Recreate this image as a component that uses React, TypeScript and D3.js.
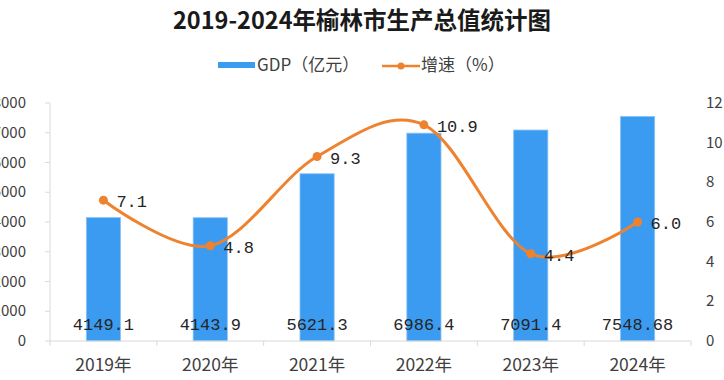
import React from "react";
import * as d3 from "d3";

const categories = ["2019年", "2020年", "2021年", "2022年", "2023年", "2024年"];
const gdpValues = [4149.1, 4143.9, 5621.3, 6986.4, 7091.4, 7548.68];
const gdpLabels = ["4149.1", "4143.9", "5621.3", "6986.4", "7091.4", "7548.68"];
const growthValues = [7.1, 4.8, 9.3, 10.9, 4.4, 6.0];
const growthLabels = ["7.1", "4.8", "9.3", "10.9", "4.4", "6.0"];
const leftTicks = [0, 1000, 2000, 3000, 4000, 5000, 6000, 7000, 8000];
const rightTicks = [0, 2, 4, 6, 8, 10, 12];
const title = "2019-2024年榆林市生产总值统计图";
const legendGdp = "GDP（亿元）";
const legendGrowth = "增速（%）";

const W = 724;
const H = 380;
const left = 50;
const right = 691;
const top = 103;
const bottom = 341;

const BLUE = "#3b9bf1";
const ORANGE = "#ee822f";
const AXIS = "#d9d9d9";
const TEXT = "#404040";
const CJK = "'Noto Sans CJK SC', 'Noto Sans', sans-serif";
const MONO = "'Liberation Mono', 'DejaVu Sans Mono', monospace";

export default function App() {
  const x = d3.scaleBand<string>().domain(categories).range([left, right]).padding(0);
  const bw = x.bandwidth();
  const cx = (c: string) => (x(c) as number) + bw / 2;
  const yL = d3.scaleLinear().domain([0, 8000]).range([bottom, top]);
  const yR = d3.scaleLinear().domain([0, 12]).range([bottom, top]);
  const barW = bw * 0.32;

  const pts: [number, number][] = categories.map((c, i) => [cx(c), yR(growthValues[i])]);
  const line = d3.line<[number, number]>().curve(d3.curveCatmullRom.alpha(0))(pts) || "";

  return (
    <svg width={W} height={H} style={{ position: "absolute", left: 0, top: 0, background: "#fff" }}>
      <rect x={0} y={0} width={W} height={H} fill="#fff" />
      <text x={362} y={29} textAnchor="middle" fontFamily={CJK} fontWeight="bold" fontSize={23.5} fill="#1a1a1a">
        {title}
      </text>
      {/* legend */}
      <rect x={218} y={62} width={37} height={6} fill={BLUE} />
      <text x={257} y={71} fontFamily={CJK} fontSize={17} fill={TEXT}>{legendGdp}</text>
      <line x1={382} x2={420} y1={66} y2={66} stroke={ORANGE} strokeWidth={2.5} />
      <circle cx={401} cy={66} r={3.5} fill={ORANGE} />
      <text x={421} y={71} fontFamily={CJK} fontSize={17} fill={TEXT}>{legendGrowth}</text>

      {/* left axis */}
      <line x1={left} x2={left} y1={top} y2={bottom} stroke={AXIS} />
      {leftTicks.map((t) => (
        <g key={"l" + t}>
          <line x1={left - 5} x2={left} y1={yL(t)} y2={yL(t)} stroke={AXIS} />
          <text x={26} y={yL(t) + 5} textAnchor="end" fontFamily={CJK} fontSize={15} fill={TEXT}>{t}</text>
        </g>
      ))}
      {/* right axis labels */}
      {rightTicks.map((t) => (
        <text key={"r" + t} x={706} y={yR(t) + 5} fontFamily={CJK} fontSize={15} fill={TEXT}>{t}</text>
      ))}

      {/* bars */}
      {categories.map((c, i) => (
        <rect key={"b" + c} x={cx(c) - barW / 2} y={yL(gdpValues[i])} width={barW} height={bottom - yL(gdpValues[i])}
          fill={BLUE} stroke="#8cc3f6" strokeWidth={0.8} />
      ))}

      {/* x axis */}
      <line x1={left} x2={right} y1={bottom} y2={bottom} stroke={AXIS} />
      {categories.map((c) => (
        <line key={"t" + c} x1={x(c) as number} x2={x(c) as number} y1={bottom} y2={bottom + 5} stroke={AXIS} />
      ))}
      <line x1={right} x2={right} y1={bottom} y2={bottom + 5} stroke={AXIS} />
      {categories.map((c) => (
        <text key={"x" + c} x={cx(c)} y={371} textAnchor="middle" fontFamily={CJK} fontSize={17.5} fill={TEXT}>{c}</text>
      ))}

      {/* bar labels */}
      {categories.map((c, i) => (
        <text key={"v" + c} x={cx(c)} y={330} textAnchor="middle" fontFamily={MONO} fontSize={17} fill="#262626">{gdpLabels[i]}</text>
      ))}

      {/* line */}
      <path d={line} fill="none" stroke={ORANGE} strokeWidth={3} />
      {pts.map((p, i) => (
        <circle key={"p" + i} cx={p[0]} cy={p[1]} r={4.5} fill={ORANGE} />
      ))}
      {pts.map((p, i) => (
        <text key={"g" + i} x={p[0] + 13} y={p[1] + 7} fontFamily={MONO} fontSize={17} fill="#262626">{growthLabels[i]}</text>
      ))}
    </svg>
  );
}
